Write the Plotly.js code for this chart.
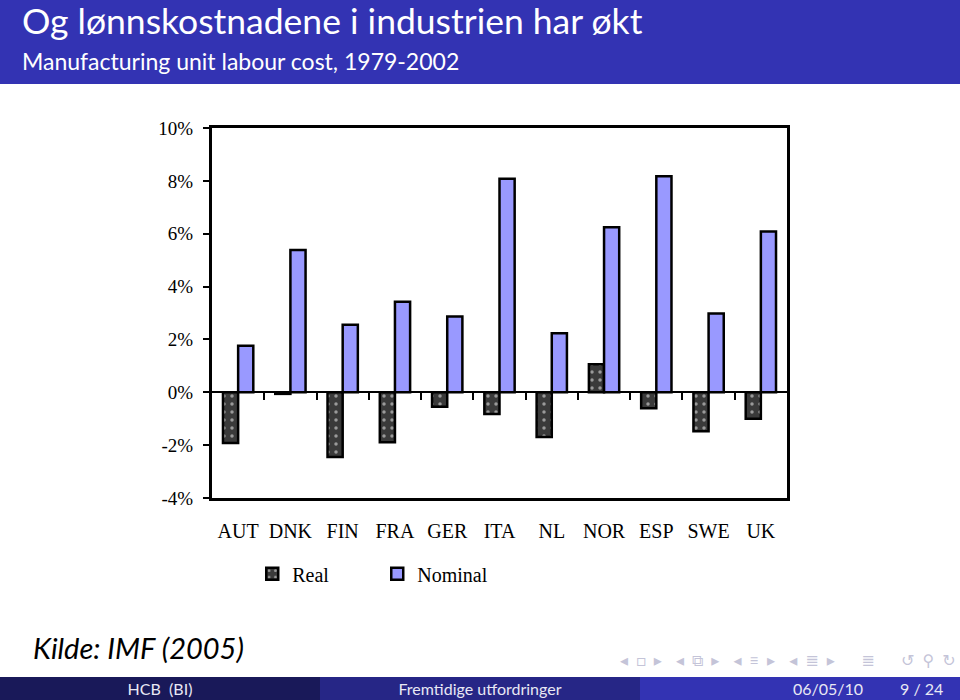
<!DOCTYPE html>
<html>
<head>
<meta charset="utf-8">
<script src="https://cdn.plot.ly/plotly-3.0.1.min.js"></script>
<style>
  html, body { margin: 0; padding: 0; background: #fff; }
  #page { position: relative; width: 960px; height: 700px; overflow: hidden; font-family: Lato, "DejaVu Sans", sans-serif; }
  #chart { position: absolute; left: 0; top: 0; width: 960px; height: 700px; }
  #head { position: absolute; left: 0; top: 0; width: 960px; height: 84px; background: #3333b3; color: #fff; }
  #head .t { position: absolute; left: 22px; top: -1px; font-size: 35.5px; }
  #head .s { position: absolute; left: 22px; top: 47px; font-size: 23px; }
  #kilde { position: absolute; left: 33px; top: 630px; font-size: 29px; font-style: italic; color: #000; }
  #nav { position: absolute; left: 620px; top: 650px; font-size: 16px; color: #c4c4d8; letter-spacing: 2px; white-space: nowrap; }
  #foot { position: absolute; left: 0; top: 677px; width: 960px; height: 23px; font-size: 16px; color: #e8e8f4; }
  #foot div { position: absolute; top: 0; height: 23px; line-height: 23px; }
  #foot .a { left: 0; width: 320px; background: #191959; text-align: center; }
  #foot .b { left: 320px; width: 320px; background: #262686; text-align: center; }
  #foot .c { left: 640px; width: 320px; background: #3333b3; }
</style>
</head>
<body>
<div id="page">
  <div id="chart"></div>
  <div id="head">
    <div class="t">Og lønnskostnadene i industrien har økt</div>
    <div class="s">Manufacturing unit labour cost, 1979-2002</div>
  </div>
  <div id="kilde">Kilde: IMF (2005)</div>
  <div id="nav">◂ □ ▸ &nbsp;◂ ⧉ ▸ &nbsp;◂ ≡ ▸ &nbsp;◂ ≣ ▸ &nbsp;&nbsp; ≣ &nbsp;&nbsp; ↺ ⚲ ↻</div>
  <div id="foot">
    <div class="a">HCB &nbsp;(BI)</div>
    <div class="b">Fremtidige utfordringer</div>
    <div class="c"><span style="position:absolute;left:153px">06/05/10</span><span style="position:absolute;left:260px">9 / 24</span></div>
  </div>
</div>
<script>
// unit labour cost growth, % per year
const countries = ["AUT", "DNK", "FIN", "FRA", "GER", "ITA", "NL", "NOR", "ESP", "SWE", "UK"];
const real    = [-1.92, -0.06, -2.45, -1.89, -0.55, -0.82, -1.69, 1.06, -0.60, -1.47, -1.00];
const nominal = [ 1.76,  5.38,  2.56,  3.43,  2.87,  8.08,  2.23, 6.24,  8.17,  2.98,  6.08];

const yTicks = [-4, -2, 0, 2, 4, 6, 8, 10];
const yTickText = ["-4%", "-2%", "0%", "2%", "4%", "6%", "8%", "10%"];

const serif = "Liberation Serif, Times New Roman, serif";

const traceReal = {
  x: countries, y: real,
  name: "Real",
  type: "bar",
  marker: {
    color: "#3a3a3a",
    line: { color: "#000", width: 2.5 },
    pattern: { shape: ".", fgcolor: "#9a9a9a", bgcolor: "#3a3a3a", size: 8, solidity: 0.15 },
  },
  hoverinfo: "skip",
};

const traceNominal = {
  x: countries, y: nominal,
  name: "Nominal",
  type: "bar",
  marker: { color: "#9999ff", line: { color: "#000", width: 2.5 } },
  hoverinfo: "skip",
};

// empty trace so the zero-line tick axis gets its own subplot
const traceTicks = {
  x: [], y: [], type: "scatter", mode: "markers",
  xaxis: "x2", yaxis: "y", showlegend: false, hoverinfo: "skip",
};

// category boundaries for the small ticks hanging under the zero line
const boundaries = countries.slice(1).map((_, i) => i + 0.5);

const layout = {
  width: 960, height: 700,
  margin: { l: 212, r: 173, t: 128, b: 202 },
  paper_bgcolor: "white",
  plot_bgcolor: "white",
  barmode: "group",
  bargap: 0.42,
  bargroupgap: 0,
  showlegend: true,
  font: { family: serif, color: "#000" },
  xaxis: {
    type: "category",
    showline: true, linecolor: "#000", linewidth: 3, mirror: true,
    ticks: "", showgrid: false, zeroline: false,
    tickfont: { family: serif, size: 20, color: "#000" },
    ticklabelstandoff: 13,
  },
  xaxis2: {
    overlaying: "x", anchor: "free", position: 4 / 14,
    range: [-0.5, 10.5],
    tickvals: boundaries,
    ticks: "outside", ticklen: 7, tickwidth: 2, tickcolor: "#000",
    showticklabels: false, showline: false, showgrid: false, zeroline: false,
  },
  yaxis: {
    range: [-4, 10],
    tickvals: yTicks, ticktext: yTickText,
    showline: true, linecolor: "#000", linewidth: 3, mirror: true,
    ticks: "outside", ticklen: 6, tickwidth: 2, tickcolor: "#000",
    showgrid: false,
    zeroline: true, zerolinecolor: "#000", zerolinewidth: 2,
    tickfont: { family: serif, size: 19, color: "#000" },
    ticklabelstandoff: 6,
  },
  legend: {
    orientation: "h",
    x: 0.07, xanchor: "left",
    y: -0.205, yanchor: "middle",
    font: { family: serif, size: 20, color: "#000" },
    entrywidth: 80, entrywidthmode: "pixels",
    itemclick: false, itemdoubleclick: false,
  },
};

Plotly.newPlot("chart", [traceReal, traceNominal, traceTicks], layout, { displayModeBar: false, staticPlot: true });
</script>
</body>
</html>
